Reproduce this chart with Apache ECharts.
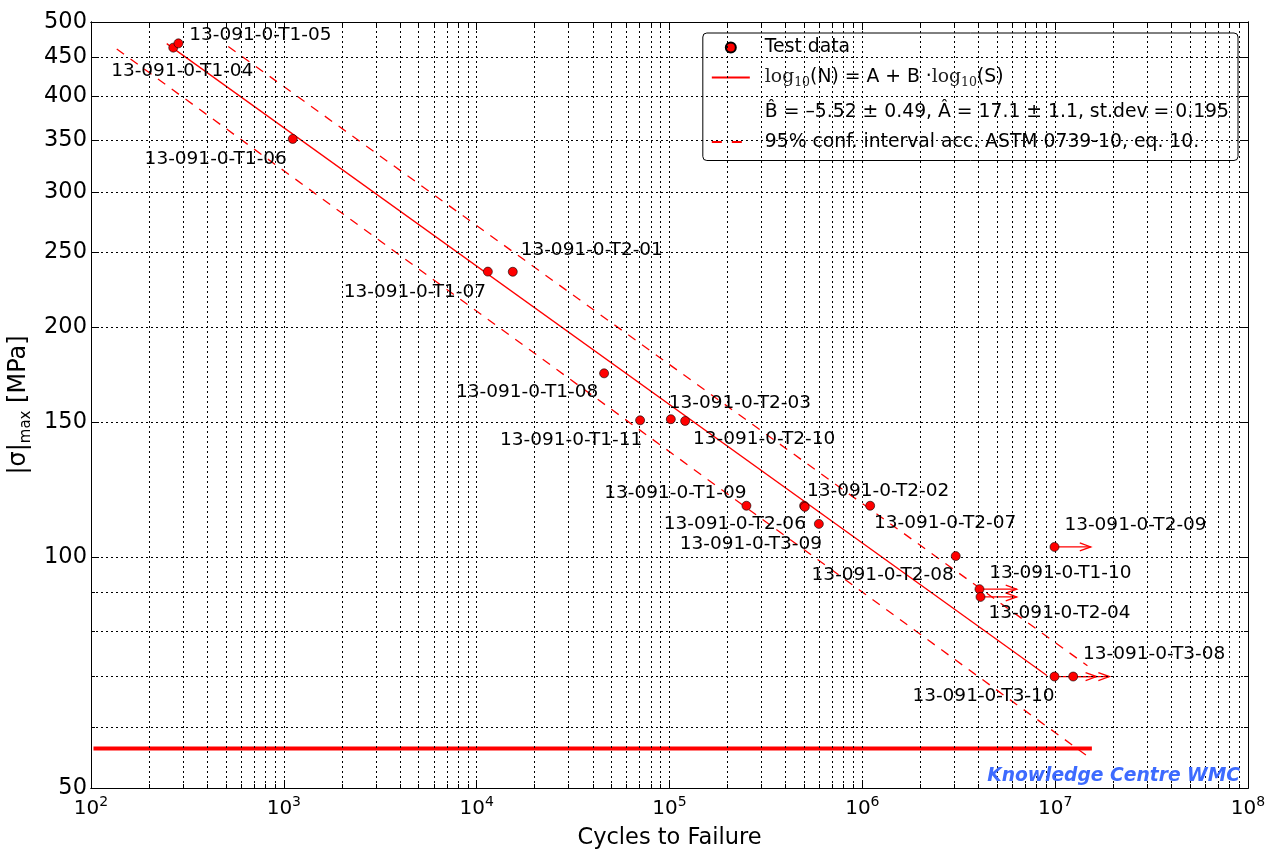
<!DOCTYPE html>
<html>
<head>
<meta charset="utf-8">
<title>S-N curve 13-091-0</title>
<style>html,body{margin:0;padding:0;background:#fff;}</style>
</head>
<body>
<div id="container" style="width:1273px;height:851px;"></div>
<script src="https://cdn.jsdelivr.net/npm/echarts@6/dist/echarts.min.js"></script>
<script>
'use strict'
var FONT = 'DejaVu Sans';
var RED = '#ff0000';

// test data: specimen, cycles to failure, |sigma|max [MPa]
var specimens = [
	'13-091-0-T1-04', '13-091-0-T1-05', '13-091-0-T1-06', '13-091-0-T1-07', '13-091-0-T2-01',
	'13-091-0-T1-08', '13-091-0-T1-11', '13-091-0-T2-03', '13-091-0-T2-10', '13-091-0-T1-09',
	'13-091-0-T2-02', '13-091-0-T2-06', '13-091-0-T3-09', '13-091-0-T2-07', '13-091-0-T2-08',
	'13-091-0-T1-10', '13-091-0-T2-04', '13-091-0-T2-09', '13-091-0-T3-10', '13-091-0-T3-08'
];
var cycles = [
	267, 284, 1112, 11430, 15390,
	45800, 70400, 101600, 120500, 250600,
	499000, 503000, 595000, 1098000, 3050000,
	4050000, 4100000, 9920000, 9920000, 12400000
];
var stress = [
	462.9, 468.9, 351.8, 236.1, 236.0,
	173.9, 151.0, 151.5, 150.7, 116.8,
	116.8, 116.4, 110.6, 116.8, 100.4,
	90.9, 88.8, 103.2, 69.9, 69.9
];
// where each specimen label sits, relative to its marker (px)
var labelOffsets = [
	[9, 24], [82, -8], [-77, 20], [-73, 21], [79, -22],
	[-77, 19], [-69, 20], [69, -16], [79, 18], [-71, -13],
	[74, -15], [-70, 17], [-68, 20], [75, 17], [-73, 19],
	[81, -16], [79, 16], [81, -22], [-71, 20], [81, -22]
];

// run-outs (test stopped without failure): arrow goes to these cycles
var runouts = ['13-091-0-T1-10', '13-091-0-T2-04', '13-091-0-T2-09', '13-091-0-T3-10', '13-091-0-T3-08'];
var runoutEnd = [6320000, 6320000, 15300000, 16400000, 19100000];

// fitted curve and 95% confidence bounds, end points [cycles, stress]
var fitLine = [[247, 468.5], [9060000, 70.1]];
var lowerBound = [[136, 461.0], [15200000, 54.7]];
var upperBound = [[515, 464.4], [14700000, 72.2]];
var limitLine = [[103, 56.3], [15500000, 56.3]];

// ticks
var xMajorTicks = [1e2, 1e3, 1e4, 1e5, 1e6, 1e7, 1e8];
var yTickValues = [50, 100, 150, 200, 250, 300, 350, 400, 450, 500];
var yMinorTicks = [60, 70, 80, 90];

var FIT_NAME = 'log10(N) = A + B log10(S)';
var STATS_NAME = 'B\u0302 = \u20135.52 \u00b1 0.49, \u00c2 = 17.1 \u00b1 1.1, st.dev = 0.195';
var CONF_NAME = '95% conf. interval acc. ASTM 0739-10, eq. 10.';

var xMinorTicks = [];
for (var d = 0; d < xMajorTicks.length - 1; d++) {
	for (var m = 2; m <= 9; m++) xMinorTicks.push(xMajorTicks[d] * m);
}

// dotted grid on every major and minor tick
var gridMarks = [];
xMinorTicks.concat(xMajorTicks.slice(1, -1)).forEach(function(v) { gridMarks.push({ xAxis: v }); });
yTickValues.slice(1, -1).concat(yMinorTicks).forEach(function(v) { gridMarks.push({ yAxis: v }); });

var points = specimens.map(function(name, i) {
	return { name: name, value: [cycles[i], stress[i]] };
});

var arrows = runouts.map(function(name, i) {
	var k = specimens.indexOf(name);
	return [cycles[k], stress[k], runoutEnd[i]];
});

function xAxisDef(pos, ticks, len, labels) {
	return {
		type: 'log', logBase: 10, min: 100, max: 1e8, position: pos,
		axisLine: { show: true, onZero: false, lineStyle: { color: '#000', width: 1 } },
		axisTick: { show: true, inside: true, length: len, customValues: ticks, lineStyle: { color: '#000', width: 1 } },
		axisLabel: labels ? {
			show: true, margin: 7, customValues: ticks,
			formatter: function(v) { return '{b|10}{s|' + Math.round(Math.log10(v)) + '}'; },
			rich: {
				b: { fontFamily: FONT, fontSize: 20, color: '#000', lineHeight: 24, verticalAlign: 'bottom' },
				s: { fontFamily: FONT, fontSize: 14, color: '#000', lineHeight: 14, verticalAlign: 'top' }
			}
		} : { show: false },
		splitLine: { show: false }
	};
}

function yAxisDef(pos, ticks, len, labels) {
	return {
		type: 'log', logBase: 10, min: 50, max: 500, position: pos,
		axisLine: { show: true, onZero: false, lineStyle: { color: '#000', width: 1 } },
		axisTick: { show: true, inside: true, length: len, customValues: ticks, lineStyle: { color: '#000', width: 1 } },
		axisLabel: labels ? {
			show: true, margin: 4, customValues: ticks,
			fontFamily: FONT, fontSize: 22.5, color: '#000'
		} : { show: false },
		splitLine: { show: false }
	};
}

var xAxes = [
	xAxisDef('bottom', xMajorTicks, 8, true),
	xAxisDef('bottom', xMinorTicks, 4, false),
	xAxisDef('top', xMajorTicks, 8, false),
	xAxisDef('top', xMinorTicks, 4, false)
];
xAxes[0].name = 'Cycles to Failure';
xAxes[0].nameLocation = 'middle';
xAxes[0].nameGap = 39;
xAxes[0].nameTextStyle = { fontFamily: FONT, fontSize: 22.5, color: '#000' };

var yAxes = [
	yAxisDef('left', yTickValues, 8, true),
	yAxisDef('left', yMinorTicks, 4, false),
	yAxisDef('right', yTickValues, 8, false),
	yAxisDef('right', yMinorTicks, 4, false)
];
yAxes[0].name = '{n||\u03c3|}{m|max}{n| [MPa]}';
yAxes[0].nameLocation = 'middle';
yAxes[0].nameRotate = 90;
yAxes[0].nameGap = 51;
yAxes[0].nameTextStyle = {
	rich: {
		n: { fontFamily: FONT, fontSize: 24, color: '#000', lineHeight: 28, verticalAlign: 'middle' },
		m: { fontFamily: FONT, fontSize: 15, color: '#000', lineHeight: 15, verticalAlign: 'bottom' }
	}
};

var myChart = echarts.init(document.getElementById('container'), null, { renderer: 'canvas' });
var option = {
	animation: false,
	backgroundColor: '#fff',
	grid: { left: 91, right: 25, top: 22, bottom: 63, containLabel: false, outerBoundsMode: 'none' },
	xAxis: xAxes,
	yAxis: yAxes,
	legend: {
		orient: 'vertical', right: 35, top: 33,
		backgroundColor: '#fff', borderColor: '#000', borderWidth: 1, borderRadius: 4,
		padding: [5, 9, 9, 8],
		itemWidth: 38, itemHeight: 10, itemGap: 11,
		selectedMode: false,
		data: [
			'Test data',
			{ name: FIT_NAME, itemStyle: { opacity: 0 } },
			{ name: STATS_NAME, icon: 'none' },
			{ name: CONF_NAME, itemStyle: { opacity: 0 }, lineStyle: { type: [10, 10] } }
		],
		formatter: function(name) {
			if (name === FIT_NAME) {
				return '{sp|}{lg|log}{sub|10}{t2|(N) = A + B \u00b7}{lg|log}{sub|10}{t2|(S)}';
			}
			if (name === STATS_NAME) return '{sp|}{t3|' + name + '}';
			return '{sp|}{t|' + name + '}';
		},
		textStyle: {
			color: '#000',
			rich: {
				sp: { width: 10 },
				t: { fontFamily: FONT, fontSize: 18.8, color: '#000', lineHeight: 22, verticalAlign: 'middle' },
				t2: { fontFamily: FONT, fontSize: 18.8, color: '#000', lineHeight: 24, verticalAlign: 'middle' },
				t3: { fontFamily: FONT, fontSize: 18.8, color: '#000', lineHeight: 22, verticalAlign: 'middle', padding: [2, 0, 0, 0] },
				lg: { fontFamily: 'DejaVu Serif', fontSize: 18.8, color: '#222', lineHeight: 24, verticalAlign: 'middle' },
				sub: { fontFamily: 'DejaVu Serif', fontSize: 12.5, color: '#222', lineHeight: 12, verticalAlign: 'bottom' }
			}
		}
	},
	graphic: [{
		type: 'text', right: 33, top: 767, z: 10,
		style: {
			text: 'Knowledge Centre WMC',
			fontFamily: FONT, fontSize: 18.7, fontWeight: 'bold', fontStyle: 'italic',
			fill: '#3d6bff'
		}
	}],
	series: [
		{
			// carrier for the dotted grid lines
			type: 'line', data: [], silent: true, z: 1,
			markLine: {
				silent: true, animation: false,
				symbol: ['none', 'none'],
				label: { show: false },
				lineStyle: { color: '#000', width: 1, type: [2, 3] },
				emphasis: { disabled: true },
				data: gridMarks
			}
		},
		{
			type: 'line', data: limitLine, z: 3,
			symbol: 'none', silent: true,
			lineStyle: { color: RED, width: 4 }
		},
		{
			name: CONF_NAME, type: 'line', data: lowerBound, z: 3,
			symbol: 'none', silent: true,
			itemStyle: { color: RED },
			lineStyle: { color: RED, width: 1.3, type: [9, 8] }
		},
		{
			name: CONF_NAME, type: 'line', data: upperBound, z: 3,
			symbol: 'none', silent: true,
			itemStyle: { color: RED },
			lineStyle: { color: RED, width: 1.3, type: [9, 8] }
		},
		{
			name: FIT_NAME, type: 'line', data: fitLine, z: 3,
			symbol: 'none', silent: true,
			itemStyle: { color: RED },
			lineStyle: { color: RED, width: 1.3 }
		},
		{
			type: 'custom', z: 4, silent: true, clip: false,
			encode: { x: [0, 2], y: 1 },
			data: arrows,
			renderItem: function(params, api) {
				var p0 = api.coord([api.value(0), api.value(1)]);
				var p1 = api.coord([api.value(2), api.value(1)]);
				return {
					type: 'group',
					children: [
						{ type: 'line', shape: { x1: p0[0], y1: p0[1], x2: p1[0], y2: p1[1] },
							style: { stroke: RED, lineWidth: 1.3, fill: 'none' } },
						{ type: 'polyline', shape: { points: [[p1[0] - 11, p1[1] - 4], [p1[0], p1[1]], [p1[0] - 11, p1[1] + 4]] },
							style: { stroke: RED, fill: 'none', lineWidth: 1.3 } }
					]
				};
			}
		},
		{
			name: 'Test data', type: 'scatter', data: points, z: 5,
			symbol: 'circle', symbolSize: 9,
			itemStyle: { color: RED, borderColor: '#000', borderWidth: 0.6, opacity: 1 },
			label: {
				show: true, position: 'inside',
				formatter: '{b}',
				fontFamily: FONT, fontSize: 18.5, color: '#000',
				align: 'center', verticalAlign: 'middle'
			},
			labelLayout: function(params) {
				var o = labelOffsets[params.dataIndex];
				return { dx: o[0], dy: o[1], hideOverlap: false };
			},
			emphasis: { disabled: true }
		},
		{
			name: STATS_NAME, type: 'line', data: [],
			symbol: 'none', lineStyle: { opacity: 0 }
		}
	]
};
myChart.setOption(option);
</script>
</body>
</html>
